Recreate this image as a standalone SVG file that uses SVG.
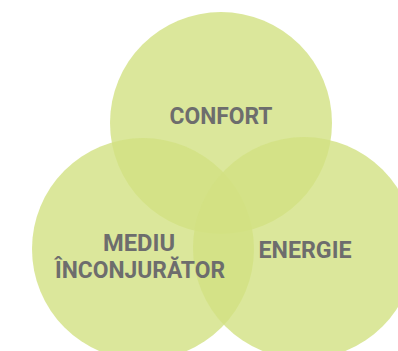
<svg xmlns="http://www.w3.org/2000/svg" width="398" height="351" viewBox="0 0 398 351">
<style>
.c{fill:#d2e182;fill-opacity:0.8}
.t{font-family:Roboto,"Liberation Sans",sans-serif;font-weight:bold;font-size:24px;fill:#6d6d6d;text-anchor:middle}
</style>
<rect width="398" height="351" fill="#ffffff"/>
<g id="confort"><circle class="c" cx="221" cy="123" r="111"/></g>
<g id="mediu"><circle class="c" cx="143" cy="249" r="111"/></g>
<g id="energie"><circle class="c" cx="304" cy="248" r="111"/></g>
<g id="labels">
<text class="t" x="221" y="124" textLength="103" lengthAdjust="spacingAndGlyphs">CONFORT</text>
<text class="t" x="139" y="251" textLength="72" lengthAdjust="spacingAndGlyphs">MEDIU</text>
<text class="t" x="140" y="278" textLength="170" lengthAdjust="spacingAndGlyphs">ÎNCONJURĂTOR</text>
<text class="t" x="305" y="258" textLength="93" lengthAdjust="spacingAndGlyphs">ENERGIE</text>
</g>
</svg>
